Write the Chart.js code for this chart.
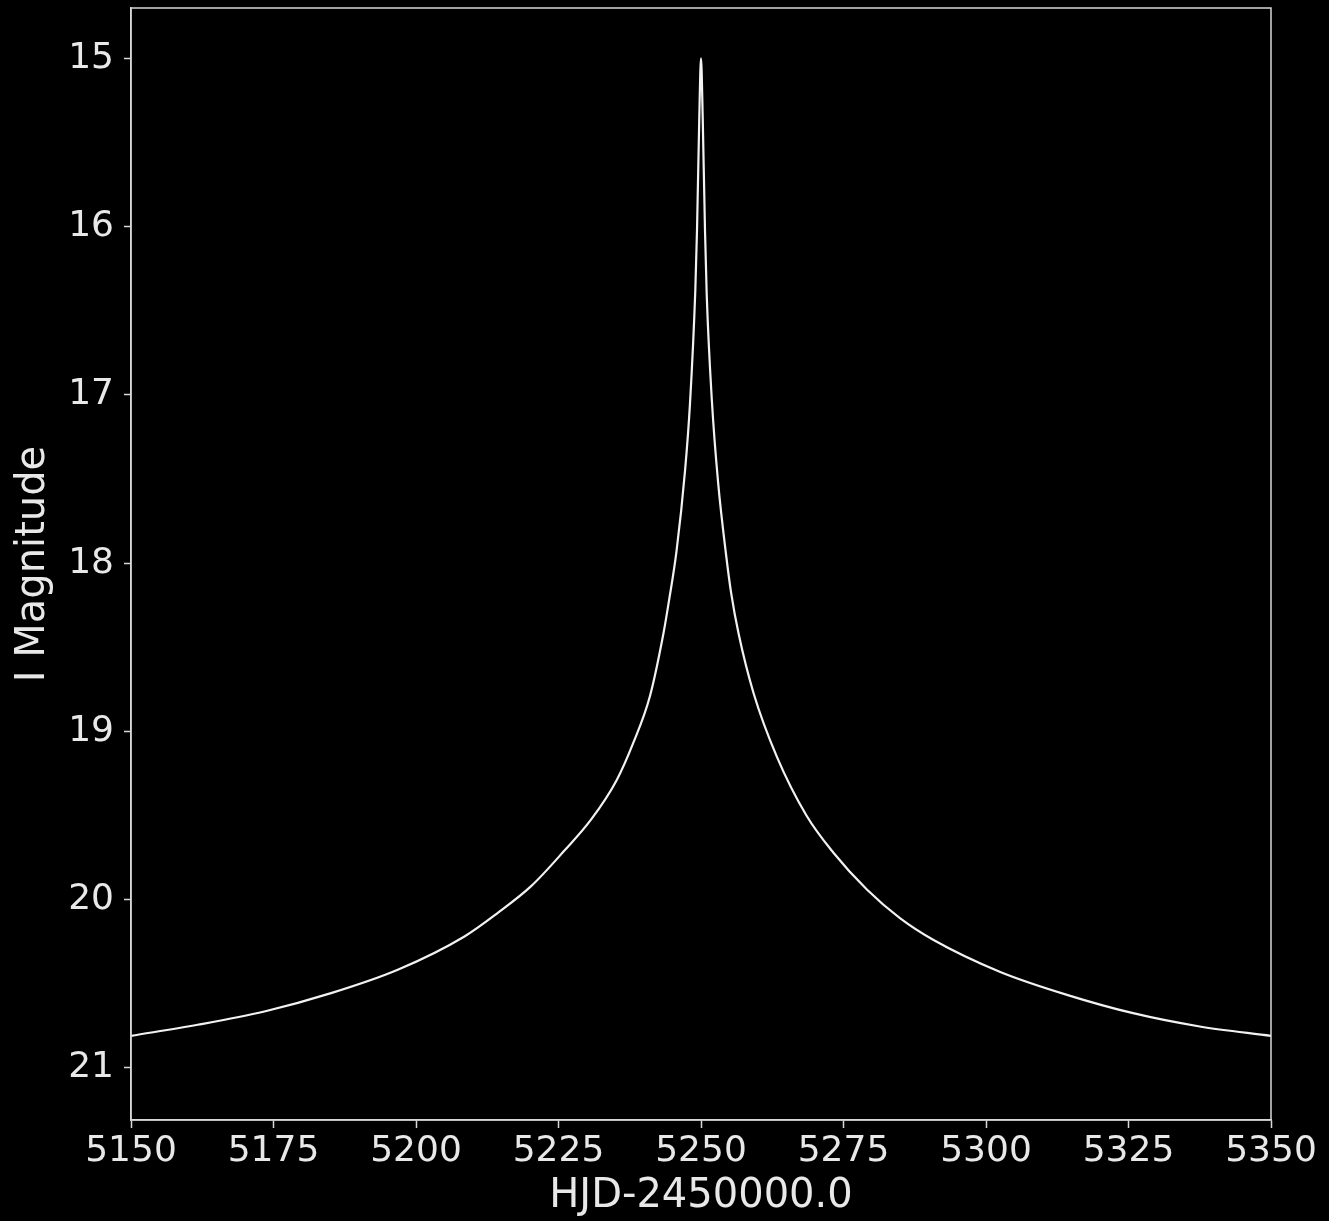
<!DOCTYPE html>
<html>
<head>
<meta charset="utf-8">
<title>I-band light curve</title>
<script src="https://cdn.jsdelivr.net/npm/chart.js@4.4.1/dist/chart.umd.min.js"></script>
<style>
  html, body { margin: 0; padding: 0; background: #000; }
  canvas { display: block; background: #000; }
</style>
</head>
<body>
<canvas id="lightCurve" width="1329" height="1221"></canvas>
<script>
// observation times (HJD-2450000.0)
var hjd = [5150, 5161.7, 5173.4, 5185.1, 5196.8, 5208.5, 5214.3, 5220.2, 5226.0,
    5230.7, 5235.2, 5238.1, 5241.05, 5243.4, 5244.4, 5245.7, 5247.2, 5248.07,
    5249.0, 5249.3, 5249.7, 5250,
    5250.3, 5250.7, 5251.0, 5251.9, 5253.0, 5254.4, 5255.3, 5256.6, 5259.2,
    5263.3, 5268.5, 5273.2, 5279.1, 5284.9, 5290.8, 5302.5, 5314.2, 5325.8,
    5337.5, 5350];
// I magnitude at each time
var iMag = [20.81, 20.744, 20.665, 20.556, 20.417, 20.219, 20.08, 19.92, 19.71,
    19.525, 19.29, 19.07, 18.79, 18.42, 18.22, 17.93, 17.45, 17.05,
    16.38, 16.02, 15.35, 15.00,
    15.35, 16.02, 16.40, 17.03, 17.52, 17.95, 18.18, 18.42, 18.77,
    19.15, 19.50, 19.72, 19.94, 20.11, 20.24, 20.43, 20.566, 20.675,
    20.754, 20.81];

var xTicks = [5150, 5175, 5200, 5225, 5250, 5275, 5300, 5325, 5350];
var yTicks = [15, 16, 17, 18, 19, 20, 21];

var fg = '#e8e8e8';
var fontFamily = '"DejaVu Sans", sans-serif';

var points = hjd.map(function (t, i) { return { x: t, y: iMag[i] }; });

// matplotlib-style box around the plot area
var frame = {
    id: 'frame',
    afterDraw: function (chart) {
        var a = chart.chartArea, ctx = chart.ctx;
        ctx.save();
        ctx.strokeStyle = '#d8d8d8';
        ctx.lineWidth = 1.5;
        ctx.strokeRect(a.left, a.top, a.right - a.left, a.bottom - a.top);
        ctx.restore();
    }
};

new Chart(document.getElementById('lightCurve').getContext('2d'), {
    type: 'scatter',
    data: {
        datasets: [{
            data: points,
            showLine: true,
            borderColor: '#f2f2f2',
            borderWidth: 2.2,
            pointRadius: 0,
            cubicInterpolationMode: 'monotone',
            fill: false
        }]
    },
    options: {
        responsive: false,
        animation: false,
        layout: { padding: { top: 8, right: 58, left: 0, bottom: 0 } },
        plugins: { legend: { display: false }, tooltip: { enabled: false } },
        scales: {
            x: {
                type: 'linear',
                min: 5150,
                max: 5350,
                afterBuildTicks: function (s) { s.ticks = xTicks.map(function (v) { return { value: v }; }); },
                afterFit: function (s) { s.height = 101; s.paddingLeft = 0; s.paddingRight = 0; },
                grid: { drawOnChartArea: false, color: '#d8d8d8', tickLength: 8, tickWidth: 1.5 },
                border: { color: '#d8d8d8', width: 1.5 },
                ticks: {
                    color: fg, font: { family: fontFamily, size: 36 }, padding: 2, maxRotation: 0,
                    callback: function (v) { return String(v); }
                },
                title: { display: true, text: 'HJD-2450000.0', color: fg, font: { family: fontFamily, size: 40, lineHeight: 1 }, padding: { top: 0, bottom: 4 } }
            },
            y: {
                type: 'linear',
                reverse: true,
                min: 14.7,
                max: 21.31,
                afterBuildTicks: function (s) { s.ticks = yTicks.map(function (v) { return { value: v }; }); },
                afterFit: function (s) { s.width = 131; s.paddingTop = 0; s.paddingBottom = 0; },
                grid: { drawOnChartArea: false, color: '#d8d8d8', tickLength: 7, tickWidth: 1.5 },
                border: { color: '#d8d8d8', width: 1.5 },
                ticks: {
                    color: fg, font: { family: fontFamily, size: 36 }, padding: 10,
                    callback: function (v) { return String(v); }
                },
                title: { display: true, text: 'I Magnitude', color: fg, font: { family: fontFamily, size: 40, lineHeight: 1 }, padding: { top: 14, bottom: 0 } }
            }
        }
    },
    plugins: [frame]
});
</script>
</body>
</html>
